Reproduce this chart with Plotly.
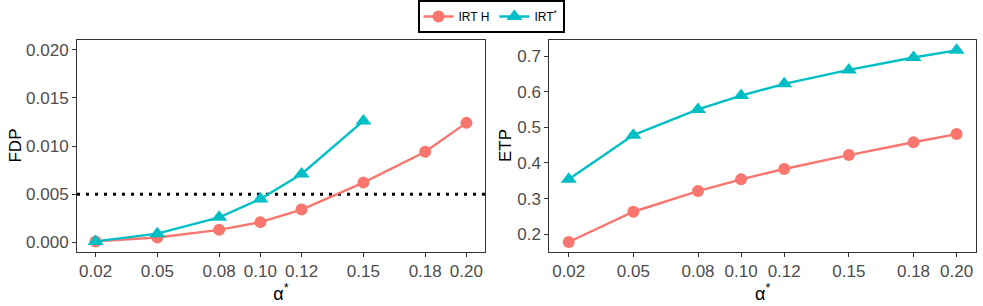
import plotly.graph_objects as go

alpha = [0.02, 0.05, 0.08, 0.10, 0.12, 0.15, 0.18, 0.20]
alpha_star = [0.02, 0.05, 0.08, 0.10, 0.12, 0.15]
tick_vals = [0.02, 0.05, 0.08, 0.10, 0.12, 0.15, 0.18, 0.20]
tick_text = ["0.02", "0.05", "0.08", "0.10", "0.12", "0.15", "0.18", "0.20"]

fdp_irth = [0.0001, 0.0005, 0.0013, 0.0021, 0.0034, 0.0062, 0.0094, 0.0124]
fdp_irtstar = [0.0001, 0.0009, 0.0026, 0.0045, 0.0071, 0.0126]
etp_irth = [0.178, 0.263, 0.321, 0.354, 0.383, 0.422, 0.458, 0.481]
etp_irtstar = [0.354, 0.478, 0.550, 0.589, 0.622, 0.661, 0.696, 0.716]
fdp_target = 0.005

RED = "#F8766D"
CYAN = "#00BFC4"
FONT = "Liberation Sans, Arial, sans-serif"

fig = go.Figure()

def add(x, y, color, symbol, size, name, xa, ya, show):
    fig.add_trace(go.Scatter(
        x=x, y=y, mode="lines+markers", name=name, legendgroup=name,
        showlegend=show, xaxis=xa, yaxis=ya,
        line=dict(color=color, width=2.4),
        marker=dict(color=color, symbol=symbol, size=size),
    ))

add(alpha, fdp_irth, RED, "circle", 12, "IRT H", "x", "y", True)
add(alpha_star, fdp_irtstar, CYAN, "triangle-up", 14, "IRT<sup>*</sup>", "x", "y", True)
add(alpha, etp_irth, RED, "circle", 12, "IRT H", "x2", "y2", False)
add(alpha, etp_irtstar, CYAN, "triangle-up", 14, "IRT<sup>*</sup>", "x2", "y2", False)

fig.add_shape(type="line", xref="x domain", yref="y", x0=0, x1=1,
              y0=fdp_target, y1=fdp_target, layer="below",
              line=dict(color="black", width=3, dash="3px,6px"))

for label, xpos in [("FDP", -0.0695), ("ETP", 0.4761)]:
    fig.add_annotation(text=label, xref="paper", yref="paper", x=xpos, y=0.5,
                       xanchor="center", yanchor="middle", textangle=-90,
                       showarrow=False, font=dict(size=17, color="black", family=FONT))

axis_common = dict(
    showgrid=False, zeroline=False, showline=True, mirror=True,
    linecolor="#333333", linewidth=1, ticks="outside", ticklen=4,
    tickcolor="#333333", tickfont=dict(size=17, color="#4D4D4D", family=FONT),
    automargin=False,
)
xtitle = dict(text="α<sup>*</sup>", font=dict(size=18, color="black"), standoff=4)
xr = [0.011, 0.209]
fig.update_layout(
    width=983, height=306,
    margin=dict(l=77, r=7, t=40, b=54, autoexpand=False),
    paper_bgcolor="white", plot_bgcolor="white",
    font=dict(family=FONT, color="black"),
    xaxis=dict(domain=[0.0, 0.4538], range=xr, tickvals=tick_vals, ticktext=tick_text,
               anchor="y", title=xtitle, **axis_common),
    yaxis=dict(domain=[0, 1], range=[-0.001, 0.021],
               tickvals=[0, 0.005, 0.01, 0.015, 0.02],
               ticktext=["0.000", "0.005", "0.010", "0.015", "0.020"],
               anchor="x", **axis_common),
    xaxis2=dict(domain=[0.5254, 1.0], range=xr, tickvals=tick_vals, ticktext=tick_text,
                anchor="y2", title=xtitle, **axis_common),
    yaxis2=dict(domain=[0, 1], range=[0.150, 0.745],
                tickvals=[0.2, 0.3, 0.4, 0.5, 0.6, 0.7],
                ticktext=["0.2", "0.3", "0.4", "0.5", "0.6", "0.7"],
                anchor="x2", **axis_common),
    legend=dict(orientation="h", xref="container", yref="container",
                x=0.5005, xanchor="center", y=1.0, yanchor="top",
                bordercolor="black", borderwidth=2, bgcolor="white",
                font=dict(size=12, color="black", family=FONT),
                itemwidth=30, tracegroupgap=0),
)

fig.write_html("out.html", config={"displayModeBar": False},
               post_script="document.body.style.margin='0';document.body.style.overflow='hidden';")
